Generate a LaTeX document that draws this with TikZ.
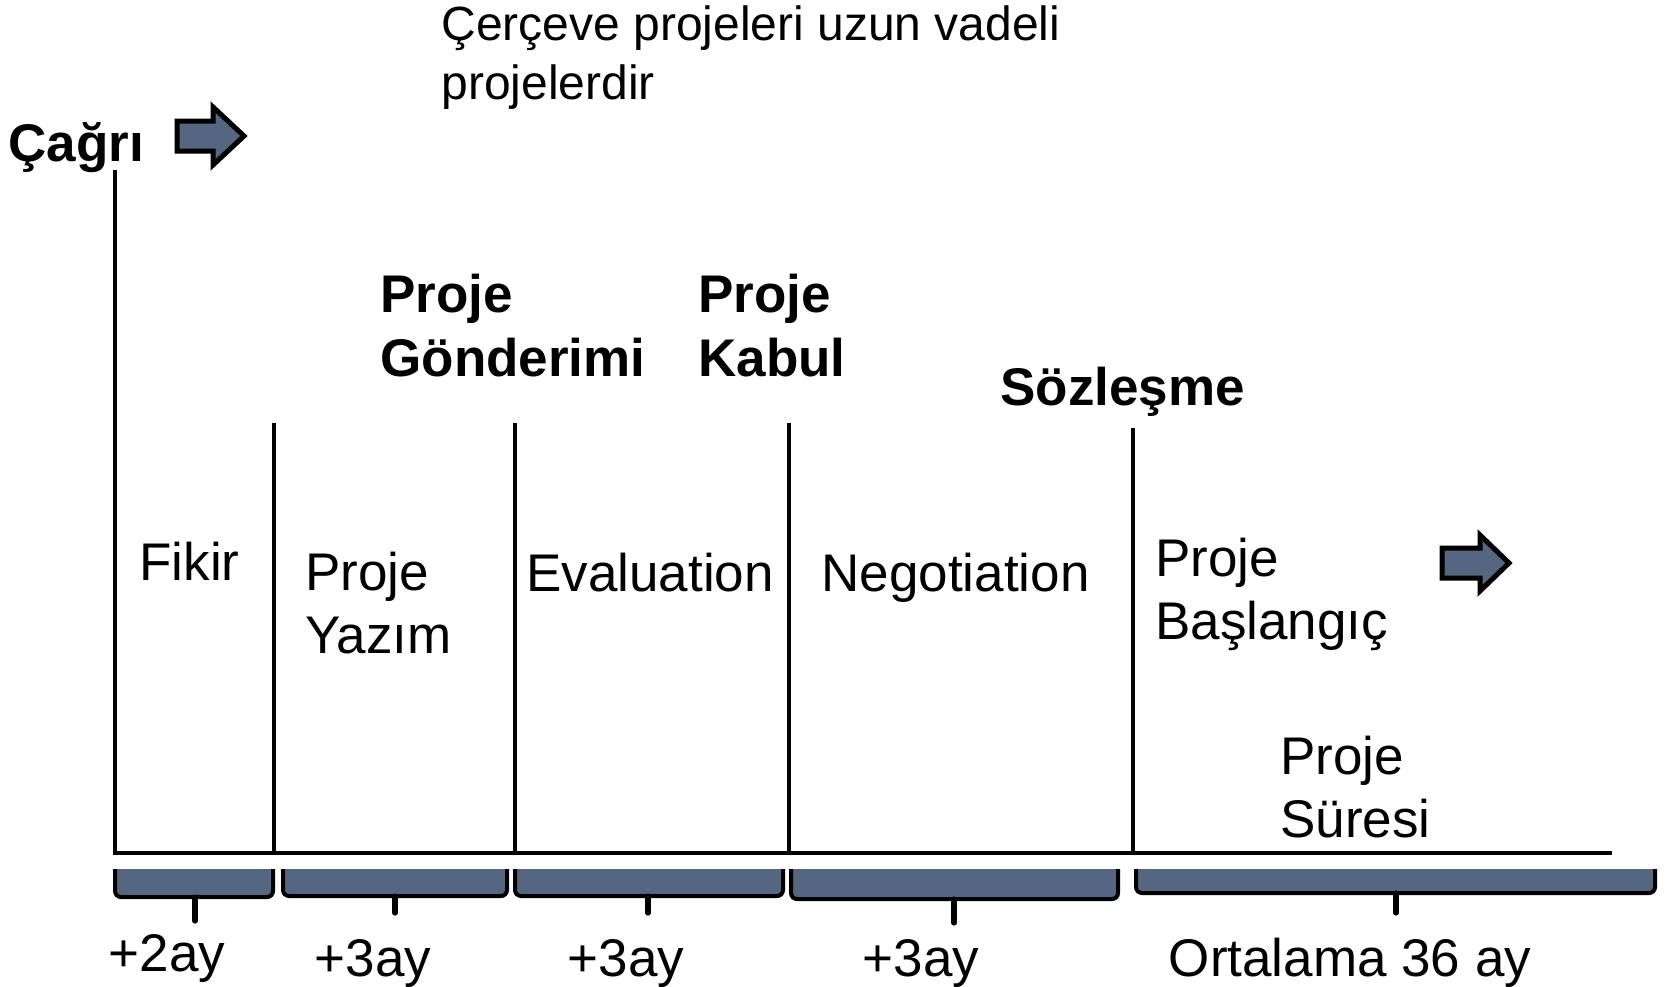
\documentclass[tikz,border=0pt]{standalone}
\usepackage{fontspec}
\setmainfont{Liberation Sans}
\usetikzlibrary{positioning}
\definecolor{slate}{RGB}{84,102,128}
\tikzset{
  txt/.style={font=\fontsize{26.5}{31.5}\selectfont, inner sep=0pt, anchor=base west, align=left},
  btxt/.style={txt, font=\fontsize{26.5}{32}\selectfont\bfseries},
  dur/.style={font=\fontsize{26.5}{31.5}\selectfont, inner sep=0pt, anchor=base},
  phase/.style={line width=2pt},
  bracefill/.style={fill=slate},
  braceline/.style={line width=2pt, rounded corners=3pt},
  stem/.style={line width=2.6pt, line cap=round},
  blockarrow/.style={fill=slate, draw=black, line width=2.5pt, line join=miter}
}
\begin{document}
\begin{tikzpicture}[x=0.5pt,y=-0.5pt]
\useasboundingbox (0,0) rectangle (1665,986);

% time axis
\coordinate (start) at (115,853);
\coordinate (top) at (115,170);
\coordinate (end) at (1612,853);
\draw[phase] (top) -- (start) -- (end);
\foreach \x/\y in {274/423, 515/423, 789/423, 1133/428}
  \draw[phase] (\x,\y) -- (\x,855);

% texts (base = last line)
\node[txt, font=\fontsize{24}{29.5}\selectfont] (note) at (441,99) {Çerçeve projeleri uzun vadeli\\projelerdir};
\node[btxt] (cagri) at (8,161) {Çağrı};
\node[btxt] (gonderim) at (380,376) {Proje\\Gönderimi};
\node[btxt] (kabul) at (698,376) {Proje\\Kabul};
\node[btxt] (sozlesme) at (1000,405) {Sözleşme};
\node[txt] (fikir) at (139,580) {Fikir};
\node[txt] (yazim) at (305,653) {Proje\\Yazım};
\node[txt] (evaluation) at (526,591) {Evaluation};
\node[txt] (negotiation) at (821,591) {Negotiation};
\node[txt] (baslangic) at (1155,639) {Proje\\Başlangıç};
\node[txt] (suresi) at (1280,837) {Proje\\Süresi};

% arrows
\draw[blockarrow, shift={(177,136)}] (0,-15) -- (36,-15) -- (36,-29) -- (67,0) -- (36,29) -- (36,15) -- (0,15) -- cycle;
\draw[blockarrow, shift={(1442,563)}] (0,-15) -- (38,-15) -- (38,-28) -- (67,0) -- (38,28) -- (38,15) -- (0,15) -- cycle;

% braces
\foreach \a/\b/\s/\bot/\e in {115/273/195/897/921, 283/507/395/896/913, 515/783/648/896/913, 791/1118/954/899/923, 1136/1655/1396/893/913}{
  \fill[bracefill] (\a,869) rectangle (\b,\bot);
  \draw[braceline] (\a,869) -- (\a,\bot) -- (\b,\bot) -- (\b,869);
  \draw[stem] (\s,\bot) -- (\s,\e);
}
\node[dur] (d1) at (167,971) {+2ay};
\node[dur] (d2) at (373,976) {+3ay};
\node[dur] (d3) at (626,976) {+3ay};
\node[dur] (d4) at (921,976) {+3ay};
\node[dur] (d5) at (1350,976) {Ortalama 36 ay};
\end{tikzpicture}
\end{document}
